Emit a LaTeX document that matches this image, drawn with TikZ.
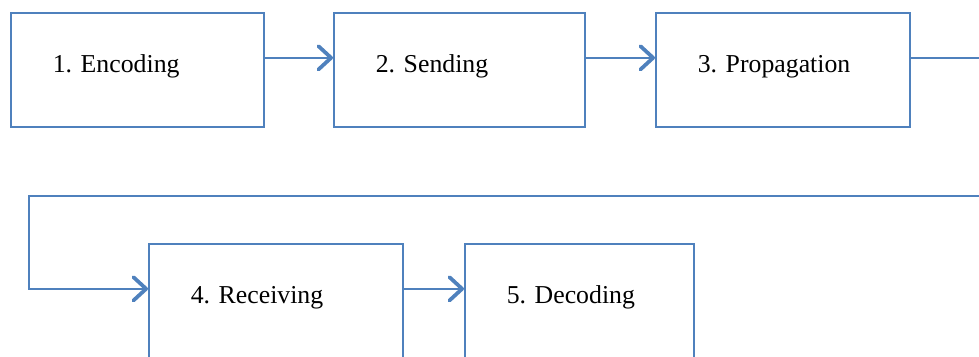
\documentclass[tikz,border=0pt]{standalone}
\usepackage{fontspec}
\setmainfont{Liberation Serif}
\usepackage{tikz}
\usetikzlibrary{arrows.meta}

\definecolor{linkblue}{HTML}{4F81BD}

\begin{document}
\begin{tikzpicture}[x=0.03cm, y=0.03cm,
    stage/.style={draw=linkblue, line width=1.4pt, anchor=north west,
      minimum height=3.42cm, inner xsep=1.26cm, text depth=0.35cm,
      align=left, font=\fontsize{22}{26}\selectfont\frenchspacing},
    flow/.style={draw=linkblue, line width=1.7pt,
      -{Straight Barb[length=0.38cm,width=0.7cm,line width=3.2pt,round]}}]

    \useasboundingbox (0,0) rectangle (979,356);

    % draw boxes
    \node (enc)  [stage, text width=5.07cm] at (10,344)  {1. Encoding};
    \node (send) [stage, text width=5.01cm] at (333,344) {2. Sending};
    \node (prop) [stage, text width=5.1cm]  at (655,344) {3. Propagation};
    \node (recv) [stage, text width=5.1cm]  at (148,113) {4. Receiving};
    \node (dec)  [stage, text width=4.35cm] at (464,113) {5. Decoding};

    % draw turning points of the long connector
    \coordinate (outR) at (1000,160);
    \coordinate (outL) at (29,160);

    % draw arrows
    \draw[flow] ([yshift=0.36cm]enc.east) -- ([yshift=0.36cm]send.west);
    \draw[flow] ([yshift=0.36cm]send.east) -- ([yshift=0.36cm]prop.west);
    \draw[flow] ([yshift=0.36cm]prop.east) -| (outR) -- (outL) |- ([yshift=0.36cm]recv.west);
    \draw[flow] ([yshift=0.36cm]recv.east) -- ([yshift=0.36cm]dec.west);

\end{tikzpicture}
\end{document}
